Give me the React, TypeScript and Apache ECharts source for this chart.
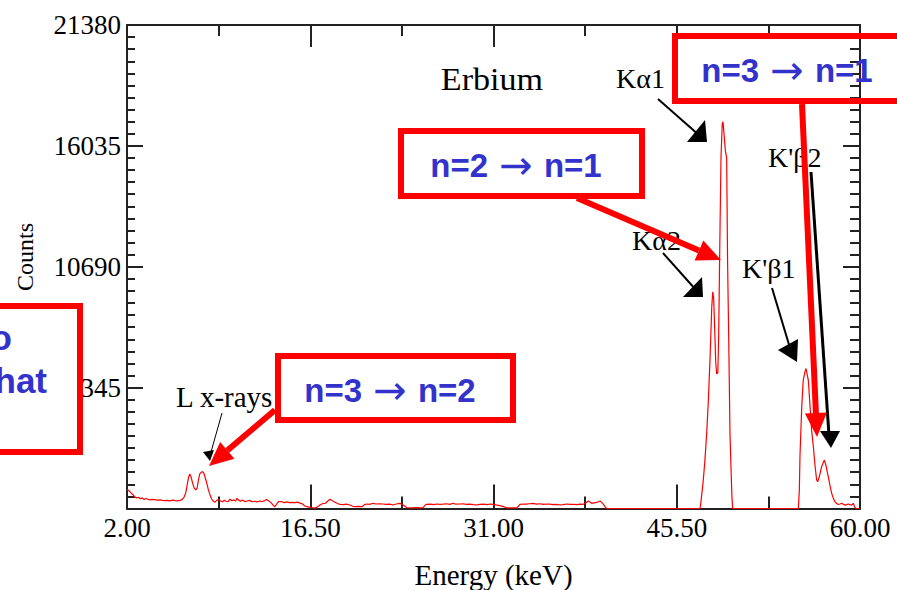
import React, { useEffect, useRef } from 'react';
import * as echarts from 'echarts';

// ---- data ----
const energyKeV = [
  2.0, 2.15, 2.3, 2.45, 2.6, 2.75, 2.9, 3.05, 3.2, 3.35, 3.5, 3.65, 3.8, 4.0, 4.2, 4.4, 4.6, 4.8, 5.0, 5.2, 5.4, 5.6, 5.8, 6.0, 6.2, 6.35,
  6.5, 6.65, 6.78, 6.88, 6.98, 7.08, 7.2, 7.32, 7.45, 7.55, 7.65, 7.75, 7.88, 7.98, 8.08, 8.2, 8.32, 8.45, 8.57, 8.7, 8.82, 8.95,
  9.1, 9.25, 9.4, 9.55, 9.7, 9.85, 10.0, 10.15, 10.3, 10.45, 10.6, 10.7, 10.85, 11.0, 11.15, 11.35, 11.5, 11.7, 11.9, 12.1, 12.3,
  12.5, 12.7, 12.9, 13.05, 13.2, 13.4, 13.55, 13.7, 13.85, 14.0, 14.25, 14.45, 14.65, 14.85, 15.05, 15.3, 15.5, 15.7, 15.9, 16.05,
  16.22, 16.4, 16.6, 16.88, 17.05, 17.27, 17.5, 17.7, 17.9, 18.06, 18.25, 18.46, 18.65, 18.85, 19.1, 19.35, 19.64, 19.85, 20.0,
  20.3, 20.6, 20.8, 20.97, 21.2, 21.47, 21.7, 22.0, 22.26, 22.5, 22.8, 23.05, 23.3, 23.6, 23.85, 24.13, 24.5, 24.9, 25.2, 25.43,
  25.6, 25.7, 26.0, 26.3, 26.5, 26.77, 27.0, 27.3, 27.55, 27.8, 28.05, 28.3, 28.6, 28.85, 29.1, 29.4, 29.67, 29.9, 30.2, 30.5,
  30.75, 30.96, 31.2, 31.5, 31.8, 32.04, 32.4, 32.84, 33.0, 33.1, 33.35, 33.6, 33.85, 34.13, 34.4, 34.7, 34.95, 35.2, 35.45, 35.7,
  36.0, 36.26, 36.5, 36.8, 37.05, 37.31, 37.6, 37.85, 38.1, 38.3, 38.5, 38.65, 38.77, 38.95, 39.17, 39.3, 39.43, 39.58, 39.7,
  39.85, 39.96, 42.0, 45.0, 47.35, 47.45, 47.6, 47.73, 47.87, 48.0, 48.13, 48.27, 48.35, 48.42, 48.5, 48.58, 48.66, 48.75, 48.82,
  48.9, 49.0, 49.1, 49.16, 49.25, 49.35, 49.45, 49.52, 49.61, 49.71, 49.79, 49.87, 49.93, 52.0, 55.12, 55.2, 55.25, 55.39, 55.51,
  55.65, 55.73, 55.83, 55.91, 56.05, 56.18, 56.31, 56.44, 56.57, 56.65, 56.78, 56.96, 57.18, 57.31, 57.49, 57.63, 57.76, 57.89,
  58.02, 58.15, 58.28, 58.42, 58.55, 58.68, 58.81, 58.95, 59.07, 59.2, 59.34, 59.47, 59.6, 59.7, 60.0,
];
const counts = [
  840, 790, 700, 620, 520, 470, 500, 430, 470, 400, 440, 410, 380, 400, 390, 370, 380, 360, 350, 360, 340, 370, 350, 340, 360, 400,
  480, 700, 1100, 1400, 1520, 1380, 1100, 900, 820, 900, 1250, 1520, 1610, 1625, 1560, 1350, 1100, 800, 600, 420, 330, 280,
  360, 400, 330, 300, 360, 320, 300, 410, 340, 380, 330, 450, 360, 320, 380, 300, 330, 360, 300, 320, 290,
  330, 310, 350, 400, 340, 260, 150, 80, 200, 300, 300, 260, 290, 260, 270, 260, 280, 240, 200, 120,
  80, 60, 40, 20, 60, 155, 220, 230, 330, 406, 340, 273, 220, 185, 170, 190, 155, 100, 80,
  90, 80, 170, 200, 180, 230, 200, 210, 200, 180, 190, 155, 200, 230, 150, 40, 30, 35, 30, 40,
  150, 185, 190, 170, 200, 185, 190, 210, 180, 230, 190, 200, 210, 180, 190, 170, 155, 180, 190, 170,
  200, 185, 160, 130, 80, 30, 25, 30, 120, 185, 200, 190, 210, 230, 190, 210, 180, 200, 190, 170,
  185, 155, 170, 200, 180, 185, 170, 190, 185, 240, 330, 280, 230, 250, 270, 300, 330, 260, 185,
  60, 0, 0, 0, 0, 470, 1260, 2140, 3340, 4790, 6560, 8910, 9580, 9300, 8000, 6500, 5950, 6000, 7700,
  11400, 15500, 17000, 17100, 16500, 15800, 15500, 11000, 7600, 3340, 1850, 460, 0, 0, 0, 800, 2290, 4500, 5680,
  6050, 6190, 5900, 5680, 4500, 3400, 2730, 1900, 1260, 1180, 1400, 1850, 2140, 1900, 1400, 1000, 670, 450,
  300, 220, 180, 200, 230, 190, 150, 170, 200, 170, 150, 230, 40, 0, 0,
];

const xMin = 2;
const xMax = 60;
const xLabelValues = [2, 16.5, 31, 45.5, 60];
const xMinorTickValues = [9.25, 23.75, 38.25, 52.75];
const yMin = 0;
const yMax = 21380;
const yInterval = 5345;

const titleText = 'Erbium';
const xAxisName = 'Energy (keV)';
const yAxisName = 'Counts';
const peakLabels = ['Kα1', 'Kα2', "K'β1", "K'β2", 'L x-rays'];
const transitions = [
  ['n=3', 'n=1'],
  ['n=2', 'n=1'],
  ['n=3', 'n=2'],
];
const sideNoteLines = ['to', 'that'];

const AXIS_COLOR = '#222';
const SERIF = '"Liberation Serif", "Times New Roman", serif';
const SANS = '"Liberation Sans", Arial, sans-serif';
const BLUE = '#3333cc';
const RED = '#ff0000';

function arrowHead(x1: number, y1: number, tx: number, ty: number, len: number, half: number) {
  const dx = tx - x1;
  const dy = ty - y1;
  const l = Math.sqrt(dx * dx + dy * dy);
  const ux = dx / l;
  const uy = dy / l;
  const bx = tx - ux * len;
  const by = ty - uy * len;
  const px = -uy * half;
  const py = ux * half;
  return {
    base: [bx, by],
    points: [
      [tx, ty],
      [bx + px, by + py],
      [bx - px, by - py],
    ],
  };
}

function redArrow(x1: number, y1: number, tx: number, ty: number) {
  const h = arrowHead(x1, y1, tx, ty, 24, 11);
  return [
    {
      type: 'line',
      z: 100,
      shape: { x1, y1, x2: h.base[0], y2: h.base[1] },
      style: { stroke: RED, lineWidth: 6 },
    },
    { type: 'polygon', z: 100, shape: { points: h.points }, style: { fill: RED } },
  ];
}

function blackArrow(x1: number, y1: number, x2: number, y2: number, head: number[][], w = 2) {
  return [
    { type: 'line', z: 100, shape: { x1, y1, x2, y2 }, style: { stroke: '#000', lineWidth: w } },
    { type: 'polygon', z: 100, shape: { points: head }, style: { fill: '#000' } },
  ];
}

function serifText(text: string, x: number, y: number, size: number, align = 'left', scaleX = 1) {
  return {
    type: 'text',
    z: 100,
    x,
    y,
    scaleX,
    style: {
      text,
      fill: '#000',
      fontFamily: SERIF,
      fontSize: size,
      align,
      verticalAlign: 'middle',
    },
  };
}

function transitionText(pair: string[], x: number, y: number) {
  return {
    type: 'text',
    z: 101,
    x,
    y,
    style: {
      text: `{n|${pair[0]} }{a|→}{n| ${pair[1]}}`,
      fill: BLUE,
      fontFamily: SANS,
      fontWeight: 'bold',
      fontSize: 33,
      align: 'center',
      verticalAlign: 'middle',
      rich: {
        n: { fill: BLUE, color: BLUE, fontFamily: SANS, fontWeight: 'bold', fontSize: 33 },
        a: {
          fill: BLUE,
          color: BLUE,
          fontFamily: '"DejaVu Sans", sans-serif',
          fontWeight: 'normal',
          fontSize: 40,
          padding: [0, 2, 0, 2],
        },
      },
    },
  };
}

function blueText(text: string, x: number, y: number, align = 'center') {
  return {
    type: 'text',
    z: 101,
    x,
    y,
    style: {
      text,
      fill: BLUE,
      fontFamily: SANS,
      fontWeight: 'bold',
      fontSize: 35,
      align,
      verticalAlign: 'middle',
    },
  };
}

function redBox(x: number, y: number, w: number, h: number, fill: string) {
  return {
    type: 'rect',
    z: 99,
    shape: { x, y, width: w, height: h },
    style: { fill, stroke: RED, lineWidth: 6 },
  };
}

export default function App() {
  const ref = useRef<HTMLDivElement>(null);

  useEffect(() => {
    if (!ref.current) return;
    const chart = echarts.init(ref.current, undefined, { renderer: 'svg' });

    const data = energyKeV.map((e, i) => [e, counts[i]]);

    const baseX = {
      type: 'value',
      min: xMin,
      max: xMax,
      splitLine: { show: false },
      axisLine: { onZero: false, lineStyle: { color: AXIS_COLOR, width: 2 } },
    };

    const option: any = {
      animation: false,
      backgroundColor: '#fff',
      grid: { left: 127, top: 25, width: 733, height: 483.5, outerBoundsMode: 'none' },
      xAxis: [
        {
          ...baseX,
          position: 'bottom',
          offset: 0,
          axisTick: {
            inside: true,
            length: 24,
            customValues: xLabelValues,
            lineStyle: { color: AXIS_COLOR, width: 2 },
          },
          axisLabel: {
            customValues: xLabelValues,
            formatter: (v: number) => v.toFixed(2),
            color: '#000',
            fontFamily: SERIF,
            fontSize: 27,
            margin: 6,
          },
          name: xAxisName,
          nameLocation: 'middle',
          nameGap: 52,
          nameTextStyle: { color: '#000', fontFamily: SERIF, fontSize: 29 },
        },
        {
          ...baseX,
          position: 'bottom',
          offset: 0,
          axisLine: { show: false, onZero: false },
          axisTick: {
            inside: true,
            length: 12,
            customValues: xMinorTickValues,
            lineStyle: { color: AXIS_COLOR, width: 2 },
          },
          axisLabel: { show: false },
        },
        {
          ...baseX,
          position: 'top',
          offset: 0,
          axisTick: {
            inside: true,
            length: 22,
            customValues: xLabelValues,
            lineStyle: { color: AXIS_COLOR, width: 2 },
          },
          axisLabel: { show: false },
        },
        {
          ...baseX,
          position: 'top',
          offset: 0,
          axisLine: { show: false, onZero: false },
          axisTick: {
            inside: true,
            length: 11,
            customValues: xMinorTickValues,
            lineStyle: { color: AXIS_COLOR, width: 2 },
          },
          axisLabel: { show: false },
        },
      ],
      yAxis: [
        {
          type: 'value',
          position: 'left',
          min: yMin,
          max: yMax,
          interval: yInterval,
          splitLine: { show: false },
          axisLine: { show: true, onZero: false, lineStyle: { color: AXIS_COLOR, width: 2 } },
          axisTick: { show: true, inside: true, length: 16, lineStyle: { color: AXIS_COLOR, width: 2 } },
          minorTick: { show: true, splitNumber: 10, length: 8, lineStyle: { color: AXIS_COLOR, width: 2 } },
          axisLabel: {
            showMinLabel: false,
            formatter: (v: number) => String(v),
            color: '#000',
            fontFamily: SERIF,
            fontSize: 27,
            margin: 6,
          },
        },
        {
          type: 'value',
          position: 'right',
          min: yMin,
          max: yMax,
          interval: yInterval,
          splitLine: { show: false },
          axisLine: { show: true, onZero: false, lineStyle: { color: AXIS_COLOR, width: 2 } },
          axisTick: { show: true, inside: true, length: 17, lineStyle: { color: AXIS_COLOR, width: 2 } },
          minorTick: { show: true, splitNumber: 10, length: 10, lineStyle: { color: AXIS_COLOR, width: 2 } },
          axisLabel: { show: false },
        },
      ],
      series: [
        {
          type: 'line',
          xAxisIndex: 0,
          yAxisIndex: 0,
          data,
          showSymbol: false,
          symbol: 'none',
          lineStyle: { color: RED, width: 1.2 },
          z: 5,
        },
      ],
      graphic: {
        elements: [
          // title & y-axis name
          serifText(titleText, 492, 80, 31, 'center', 1.1),
          {
            type: 'text',
            z: 100,
            x: 25,
            y: 257,
            rotation: Math.PI / 2,
            style: {
              text: yAxisName,
              fill: '#000',
              fontFamily: SERIF,
              fontSize: 24,
              align: 'center',
              verticalAlign: 'middle',
            },
          },
          // peak labels
          serifText(peakLabels[0], 616, 78, 28),
          serifText(peakLabels[1], 632, 240, 28),
          serifText(peakLabels[2], 742, 268, 28),
          serifText(peakLabels[3], 768, 157, 28),
          serifText(peakLabels[4], 176, 397, 29),
          // black annotation arrows
          ...blackArrow(658, 99, 700, 136, [[687, 142], [707, 142], [705, 120]]),
          ...blackArrow(663, 253, 696, 290, [[683, 297], [703, 297], [702, 277]]),
          ...blackArrow(772, 288, 790, 348, [[778, 350], [797, 362], [798, 339]]),
          ...blackArrow(811, 172, 829, 435, [[820, 431], [840, 431], [831, 448]], 3),
          ...blackArrow(222, 413, 211, 452, [[203, 452], [214, 450], [210, 461]], 1),
          // red boxes
          redBox(675, 36, 260, 65, 'transparent'),
          redBox(401, 131, 241, 65, 'transparent'),
          redBox(278, 356, 235, 64, 'transparent'),
          redBox(-20, 306, 100, 146, '#fff'),
          // red arrows
          ...redArrow(275, 410, 209, 466),
          ...redArrow(577, 198, 721, 260),
          ...redArrow(802, 104, 817, 437),
          // blue transition labels
          transitionText(transitions[0], 787, 70),
          transitionText(transitions[1], 516, 165),
          transitionText(transitions[2], 390, 390),
          blueText(sideNoteLines[0], 12, 337, 'right'),
          blueText(sideNoteLines[1], 47, 380, 'right'),
        ],
      },
    };

    chart.setOption(option);
    return () => chart.dispose();
  }, []);

  return (
    <div
      ref={ref}
      style={{ position: 'fixed', left: 0, top: 0, width: 897, height: 590, background: '#fff' }}
    />
  );
}
